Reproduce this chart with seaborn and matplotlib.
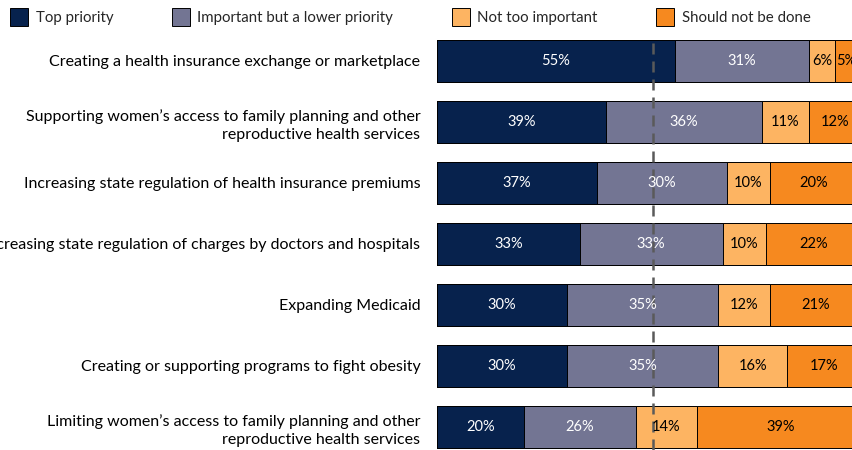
import matplotlib
matplotlib.use("Agg")
import numpy as np
import pandas as pd
import matplotlib.pyplot as plt
import seaborn as sns
from matplotlib.patches import Patch

# -----------------------------
# Data
# -----------------------------
categories = [
    "Creating a health insurance exchange or marketplace",
    "Supporting women\u2019s access to family planning and other\nreproductive health services",
    "Increasing state regulation of health insurance premiums",
    "Increasing state regulation of charges by doctors and hospitals",
    "Expanding Medicaid",
    "Creating or supporting programs to fight obesity",
    "Limiting women\u2019s access to family planning and other\nreproductive health services",
]
series_names = ["Top priority", "Important but a lower priority",
                "Not too important", "Should not be done"]
top_priority = [55, 39, 37, 33, 30, 30, 20]
lower_priority = [31, 36, 30, 33, 35, 35, 26]
not_too_important = [6, 11, 10, 10, 12, 16, 14]
should_not_be_done = [5, 12, 20, 22, 21, 17, 39]

colors = ["#07224D", "#737593", "#FDB462", "#F6891F"]
text_colors = ["white", "white", "black", "black"]

df = pd.DataFrame({
    "category": categories,
    series_names[0]: top_priority,
    series_names[1]: lower_priority,
    series_names[2]: not_too_important,
    series_names[3]: should_not_be_done,
})
cum = df[series_names].cumsum(axis=1)

sns.set_style("white")
plt.rcParams["font.family"] = ["Lato", "DejaVu Sans"]

fig = plt.figure(figsize=(8.52, 4.5), dpi=100)
ax = fig.add_axes([437 / 852, 0.0, 1 - 437 / 852, 1 - 30 / 450])

# stacked bars: draw cumulative totals from the widest down
for i in range(len(series_names) - 1, -1, -1):
    sns.barplot(data=cum.assign(category=categories), x=series_names[i], y="category",
                order=categories, orient="h", color=colors[i], width=0.7,
                edgecolor="black", linewidth=0.7, saturation=1, ax=ax, zorder=2)

# segment labels
for r, cat in enumerate(categories):
    left = 0
    for i, name in enumerate(series_names):
        v = df.loc[r, name]
        ax.text(left + v / 2, r, f"{v}%", ha="center", va="center",
                color=text_colors[i], fontsize=10.5, zorder=5)
        left += v

# 50% reference line
ax.axvline(50, ymin=0, ymax=1 - 8 / 420, color="#5A5A5A", lw=1.8,
           ls=(0, (4.4, 2.8)), zorder=4)

ax.set_xlim(0, (852 - 437) / 4.327)
ax.set_ylim(6.377, -0.508)
ax.set_xlabel("")
ax.set_ylabel("")
ax.set_xticks([])
ax.tick_params(axis="y", length=0, pad=12, labelsize=11.5, labelcolor="black")
for lab in ax.get_yticklabels():
    lab.set_horizontalalignment("right")
    lab.set_multialignment("right")
    lab.set_linespacing(1.35)
sns.despine(ax=ax, left=True, bottom=True)

# legend
handles = [Patch(facecolor=c, edgecolor="black", linewidth=0.7) for c in colors]
fig.legend(handles, series_names, loc="center left", bbox_to_anchor=(0.005, 1 - 17 / 450),
           ncol=4, frameon=False, fontsize=10.8, handlelength=1.2, handleheight=1.4,
           handletextpad=0.5, columnspacing=3.9, borderaxespad=0)

fig.savefig("out.png", dpi=100)
